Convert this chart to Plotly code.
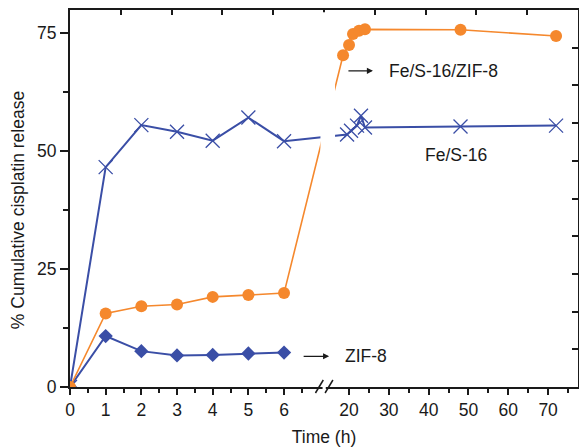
import plotly.graph_objects as go

# ---------------- data ----------------
time_left = [0, 1, 2, 3, 4, 5, 6]

zif8_y = [0, 10.8, 7.6, 6.7, 6.8, 7.1, 7.3]

fes16_left_y = [0, 46.6, 55.5, 54.1, 52.2, 57.1, 52.1]
fes16_right_t = [19.5, 20.5, 22, 23, 24, 48, 72]
fes16_right_y = [53.5, 54.3, 55.4, 57.5, 55.0, 55.2, 55.4]

fesz_left_y = [0, 15.6, 17.1, 17.5, 19.1, 19.5, 19.9]
fesz_right_t = [18.5, 20, 21, 22.5, 24, 48, 72]
fesz_right_y = [70.3, 72.5, 74.8, 75.5, 75.8, 75.7, 74.4]

left_ticks = [0, 1, 2, 3, 4, 5, 6]
right_ticks = [20, 30, 40, 50, 60, 70]
left_minor = [0.5, 1.5, 2.5, 3.5, 4.5, 5.5, 6.5]
right_minor = [25, 35, 45, 55, 65, 75]
y_ticks = [0, 25, 50, 75]

ORANGE = "#F5882D"
BLUE = "#3A4EA6"
INK = "#1a1a1a"
FONT = "Liberation Sans, Arial, sans-serif"
FS = 17.5

# ---------------- broken time axis ----------------
RIGHT_START = 7.822   # axis position of t = 20 h
RIGHT_SCALE = 0.1116  # axis units per hour in the right segment
X_MAX = 14.24


def bx(t):
    """Map time (h) onto the broken x axis."""
    if t <= 10:
        return t
    return RIGHT_START + (t - 20) * RIGHT_SCALE


def bxs(ts):
    return [bx(t) for t in ts]


fig = go.Figure()

fig.add_trace(go.Scatter(
    x=bxs(time_left), y=zif8_y, mode="lines+markers", name="ZIF-8",
    line=dict(color=BLUE, width=2),
    marker=dict(symbol="diamond", size=11, color=BLUE),
))
fig.add_trace(go.Scatter(
    x=bxs(time_left + fes16_right_t), y=fes16_left_y + fes16_right_y,
    mode="lines+markers", name="Fe/S-16",
    line=dict(color=BLUE, width=2),
    marker=dict(symbol="x-thin", size=14, color=BLUE,
                line=dict(color=BLUE, width=1.3)),
))
fig.add_trace(go.Scatter(
    x=bxs(time_left + fesz_right_t), y=fesz_left_y + fesz_right_y,
    mode="lines+markers", name="Fe/S-16/ZIF-8",
    line=dict(color=ORANGE, width=1.6),
    marker=dict(symbol="circle", size=12, color=ORANGE),
))
# dummy trace so the mirror (top / right) axes are drawn
fig.add_trace(go.Scatter(x=[None], y=[None], xaxis="x2", yaxis="y2",
                         showlegend=False, hoverinfo="skip"))

# ---------------- axes ----------------
tickvals = bxs(left_ticks + right_ticks)
ticktext = [str(v) for v in left_ticks + right_ticks]

fig.update_layout(
    width=579, height=447,
    margin=dict(l=70, r=1, t=10, b=60),
    plot_bgcolor="white", paper_bgcolor="white",
    showlegend=False,
    font=dict(family=FONT, size=FS, color=INK),
    xaxis=dict(
        range=[0, X_MAX], tickmode="array", tickvals=tickvals, ticktext=ticktext,
        ticks="outside", ticklen=6, tickwidth=1.5, tickcolor=INK,
        minor=dict(tickmode="array", tickvals=bxs(left_minor + right_minor),
                   ticks="outside", ticklen=4, tickwidth=1.5, tickcolor=INK),
        showline=True, linewidth=2, linecolor=INK,
        showgrid=False, zeroline=False,
        title=dict(text="Time (h)", standoff=12, font=dict(size=FS)),
        tickfont=dict(size=FS),
    ),
    yaxis=dict(
        range=[0, 79.9], tickmode="array", tickvals=y_ticks,
        ticks="outside", ticklen=8, tickwidth=1.5, tickcolor=INK,
        minor=dict(dtick=12.5, tick0=0, ticks="outside", ticklen=5,
                   tickwidth=1.5, tickcolor=INK),
        showline=True, linewidth=2, linecolor=INK,
        showgrid=False, zeroline=False,
        tickfont=dict(size=FS),
    ),
    xaxis2=dict(
        overlaying="x", side="top", anchor="y", range=[0, 10],
        tickmode="linear", tick0=0, dtick=1, ticks="inside", ticklen=5,
        tickwidth=1.5, tickcolor=INK, showticklabels=False,
        showline=True, linewidth=2, linecolor=INK,
        showgrid=False, zeroline=False,
    ),
    yaxis2=dict(
        overlaying="y", side="right", anchor="x", range=[0, 10],
        tickmode="linear", tick0=0, dtick=1, ticks="inside", ticklen=6,
        tickwidth=1.5, tickcolor=INK, showticklabels=False,
        showline=True, linewidth=2, linecolor=INK,
        showgrid=False, zeroline=False,
    ),
)

# y-axis title placed as rotated text
fig.add_annotation(x=-0.1024, y=0.469, xref="paper", yref="paper",
                   text="% Cumulative cisplatin release", textangle=-90,
                   showarrow=False, xanchor="center", yanchor="middle",
                   font=dict(size=17.5))

# ---------------- axis-break decoration ----------------
PLOT_H = 447 - 10 - 60


def py(px_below):
    """Paper y for a pixel offset below the bottom axis line."""
    return -px_below / PLOT_H


# white gap through the plot area
fig.add_shape(type="rect", xref="x", yref="paper",
              x0=7.02, x1=7.43, y0=0.006, y1=0.994,
              fillcolor="white", line=dict(width=0), layer="above")
# gap in the bottom axis line
fig.add_shape(type="rect", xref="x", yref="paper",
              x0=7.08, x1=7.17, y0=py(3), y1=py(-3),
              fillcolor="white", line=dict(width=0), layer="above")
# the two slashes
for x0 in (6.88, 7.15):
    fig.add_shape(type="line", xref="x", yref="paper",
                  x0=x0, x1=x0 + 0.22, y0=py(6), y1=py(-7),
                  line=dict(color=INK, width=1.5), layer="above")

# ---------------- labels with arrows ----------------
arrow = dict(showarrow=True, arrowhead=2, arrowsize=1.1, arrowwidth=1.1,
             arrowcolor=INK, ay=0, text="")

fig.add_annotation(x=bx(26.0), y=67.0, ax=-26, **arrow)
fig.add_annotation(x=bx(29.6), y=67.0, text="Fe/S-16/ZIF-8", showarrow=False,
                   xanchor="left", yanchor="middle", font=dict(size=FS))
fig.add_annotation(x=bx(46.9), y=49.2, text="Fe/S-16", showarrow=False,
                   xanchor="center", yanchor="middle", font=dict(size=FS))
fig.add_annotation(x=bx(15.0), y=6.5, ax=-27, **arrow)
fig.add_annotation(x=bx(18.5), y=6.5, text="ZIF-8", showarrow=False,
                   xanchor="left", yanchor="middle", font=dict(size=FS))

fig.write_html("out.html")
